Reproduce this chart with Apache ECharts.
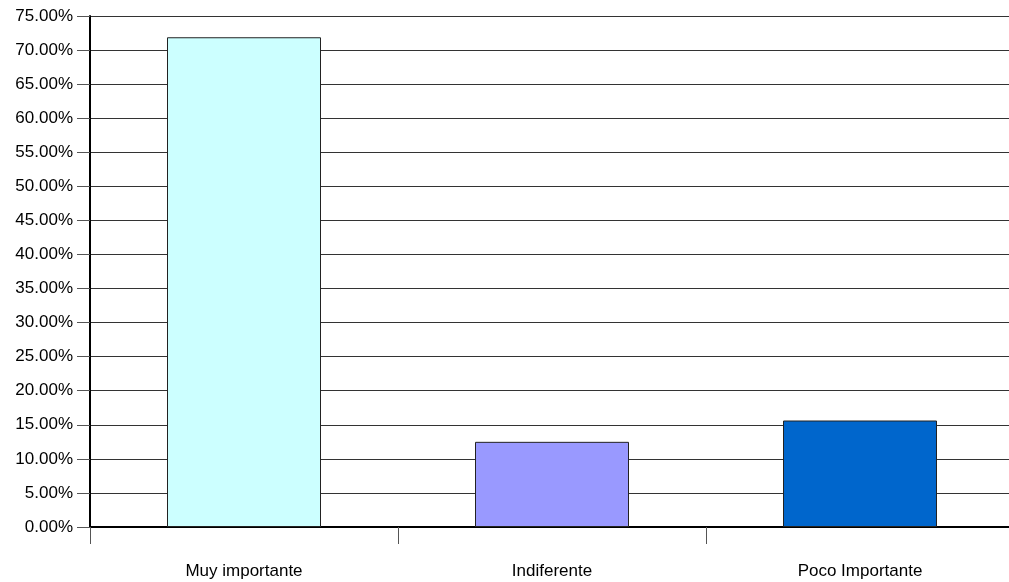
<!DOCTYPE html>
<html><head><meta charset="utf-8">
<script src="https://cdn.jsdelivr.net/npm/echarts@6/dist/echarts.min.js"></script>
<style>html,body{margin:0;padding:0;background:#fff;overflow:hidden}#c{width:1014px;height:582px}</style>
</head><body><div id="c"></div>
<script>
const categories = ['Muy importante', 'Indiferente', 'Poco Importante'];
const values = [71.88, 12.5, 15.63];
const palette = ['#CCFFFF', '#9999FF', '#0066CC'];

const chart = echarts.init(document.getElementById('c'), null, {renderer: 'canvas'});
chart.setOption({
  animation: false,
  backgroundColor: '#fff',
  grid: {left: 90, right: 0, top: 16, bottom: 55, containLabel: false},
  xAxis: {
    type: 'category',
    data: categories,
    boundaryGap: true,
    axisLine: {show: true, lineStyle: {color: '#000', width: 2}},
    axisTick: {show: true, length: 17, alignWithLabel: false, lineStyle: {color: '#555', width: 1}},
    axisLabel: {margin: 36, color: '#000', fontFamily: 'Liberation Sans', fontSize: 17},
    splitLine: {show: false}
  },
  yAxis: {
    type: 'value',
    min: 0, max: 75, interval: 5,
    axisLine: {show: true, lineStyle: {color: '#000', width: 2}},
    axisTick: {show: true, length: 13, lineStyle: {color: '#555', width: 1}},
    axisLabel: {margin: 17, color: '#000', fontFamily: 'Liberation Sans', fontSize: 17,
      formatter: v => v.toFixed(2) + '%'},
    splitLine: {show: true, lineStyle: {color: '#333', width: 1}}
  },
  series: [{
    type: 'bar',
    barCategoryGap: '50%',
    data: values.map((v, i) => ({value: v, itemStyle: {color: palette[i]}})),
    itemStyle: {borderColor: '#222', borderWidth: 1}
  }]
});
</script>
</body></html>
